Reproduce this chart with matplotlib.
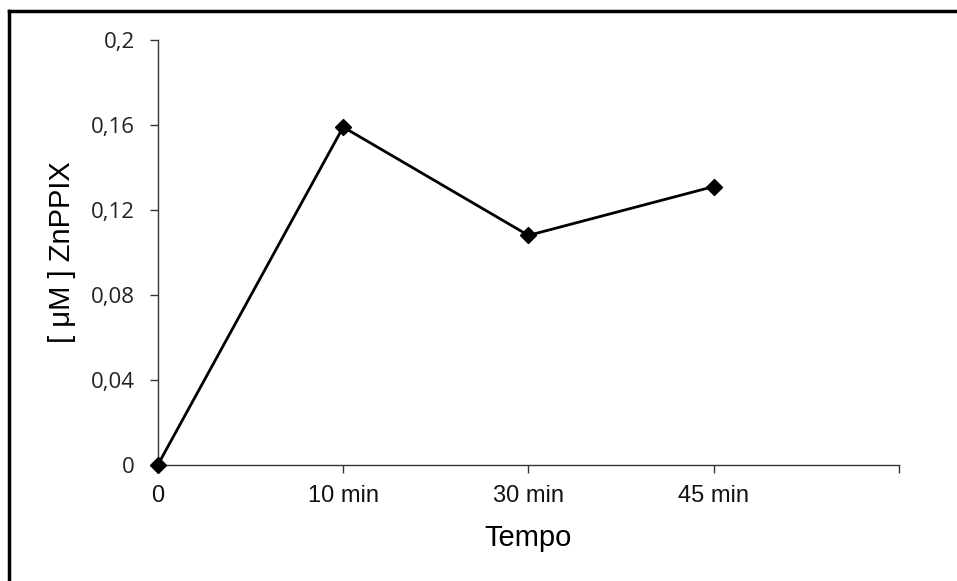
import matplotlib
matplotlib.use("Agg")
import matplotlib.pyplot as plt
from matplotlib.lines import Line2D

# data
time_labels = ['0', '10 min', '30 min', '45 min', '']
positions = [0, 1, 2, 3]
znppix = [0.0, 0.159, 0.108, 0.131]
y_ticks = [0, 0.04, 0.08, 0.12, 0.16, 0.2]
y_tick_labels = ['0', '0,04', '0,08', '0,12', '0,16', '0,2']

fig = plt.figure(figsize=(9.57, 5.81), dpi=100)
ax = fig.add_axes([0.165, 0.2, 0.7744, 0.7312])

ax.plot(positions, znppix, color='black', lw=2, marker='D', ms=8.5,
        markerfacecolor='black', markeredgecolor='black', clip_on=False, zorder=3)

ax.set_xlim(0, 4)
ax.set_ylim(0, 0.2)
ax.set_xticks(range(len(time_labels)))
ax.set_xticklabels(time_labels, fontsize=17, family='Liberation Sans', color='#111111')
ax.set_yticks(y_ticks)
ax.set_yticklabels(y_tick_labels, fontsize=16, family='Open Sans', color='#222222')

for side in ['top', 'right']:
    ax.spines[side].set_visible(False)
for side in ['left', 'bottom']:
    ax.spines[side].set_color('#333333')
    ax.spines[side].set_linewidth(1)
ax.tick_params(axis='both', direction='out', length=5.5, width=1, color='#333333')
ax.tick_params(axis='x', pad=9)
ax.tick_params(axis='y', pad=11)

ax.set_xlabel('Tempo', fontsize=21, family='Liberation Sans', labelpad=12)
ax.set_ylabel('[ μM ] ZnPPIX', fontsize=21, family='Liberation Sans', labelpad=11)

# thick frame along top and left edges of the picture
fig.add_artist(Line2D([0.0092, 1.0], [0.981, 0.981], transform=fig.transFigure,
                      color='black', lw=2.5))
fig.add_artist(Line2D([0.0092, 0.0092], [0.0, 0.981], transform=fig.transFigure,
                      color='black', lw=2.5))

fig.savefig('out.png', dpi=100)
